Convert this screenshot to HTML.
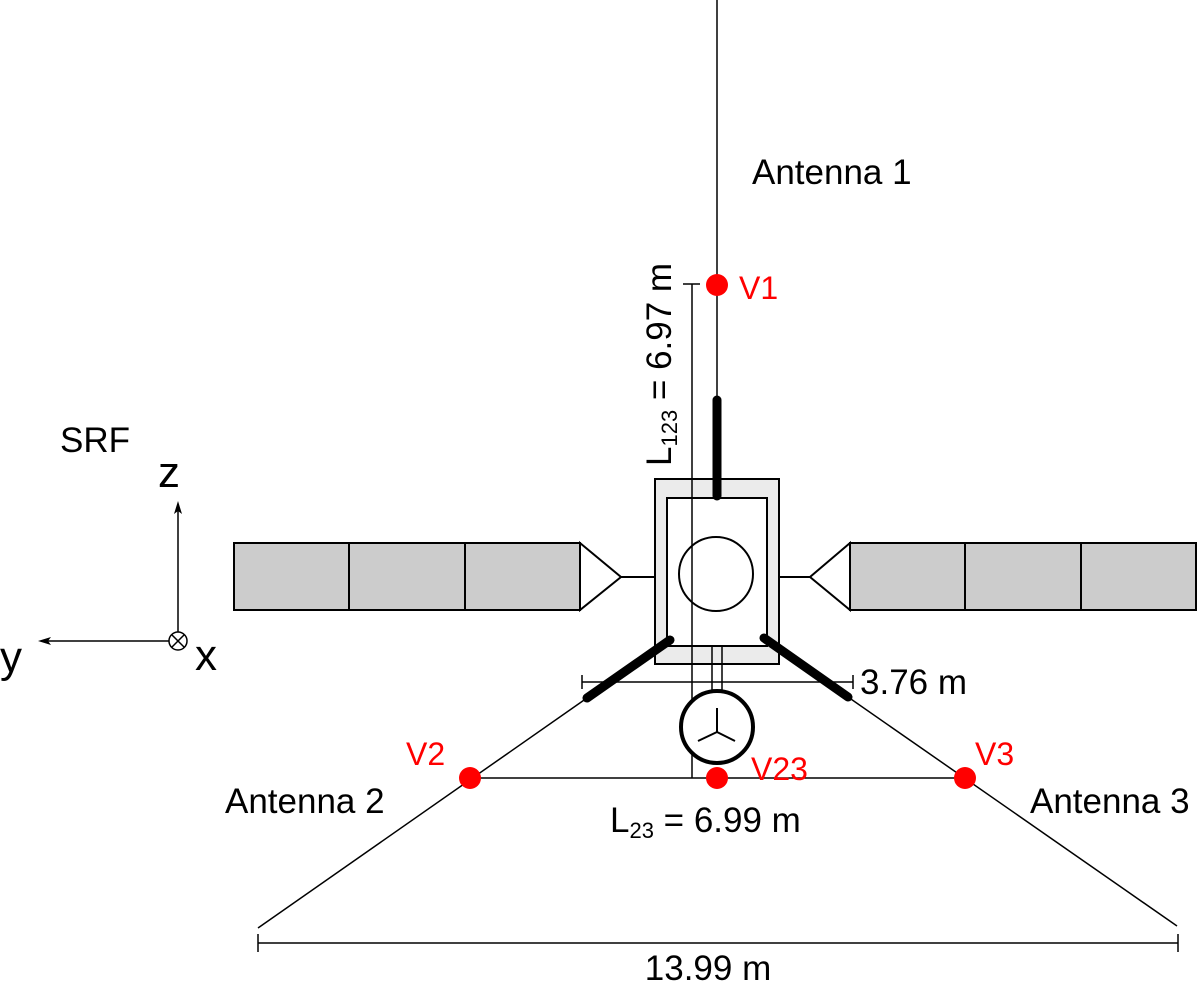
<!DOCTYPE html>
<html><head><meta charset="utf-8"><style>body{margin:0;background:#fff}svg{display:block}</style></head>
<body>
<svg width="1200" height="981" viewBox="0 0 1200 981" xmlns="http://www.w3.org/2000/svg" font-family="Liberation Sans, sans-serif">
<g stroke="#000" stroke-width="2" fill="none">
<rect x="234" y="543" width="346" height="67" fill="#ccc"/>
<line x1="349" y1="543" x2="349" y2="610"/><line x1="465" y1="543" x2="465" y2="610"/>
<polygon points="580,543 621,577 580,610" fill="#fff"/>
<line x1="621" y1="577" x2="667" y2="577"/>
<rect x="850" y="543" width="346" height="67" fill="#ccc"/>
<line x1="965" y1="543" x2="965" y2="610"/><line x1="1081" y1="543" x2="1081" y2="610"/>
<polygon points="850,543 810,577 850,610" fill="#fff"/>
<line x1="767" y1="577" x2="810" y2="577"/>
<rect x="655" y="479" width="124" height="185" fill="#ebebeb"/>
<rect x="667" y="498" width="100" height="148" fill="#fff"/>
<circle cx="716" cy="574" r="37"/>
<line x1="717" y1="0" x2="717" y2="400" stroke-width="1.5"/>
<line x1="717" y1="400" x2="717" y2="496" stroke-width="9" stroke-linecap="round"/>
<line x1="692" y1="284" x2="692" y2="778" stroke-width="1.5"/>
<line x1="683" y1="284" x2="700" y2="284" stroke-width="1.5"/>
<line x1="587" y1="698" x2="258" y2="928" stroke-width="1.5"/>
<line x1="670" y1="640" x2="587" y2="698" stroke-width="9" stroke-linecap="round"/>
<line x1="848" y1="697" x2="1177" y2="926" stroke-width="1.5"/>
<line x1="764" y1="638" x2="848" y2="697" stroke-width="9" stroke-linecap="round"/>
<line x1="582" y1="682" x2="853" y2="682" stroke-width="1.5"/>
<line x1="582" y1="675" x2="582" y2="689" stroke-width="1.5"/><line x1="853" y1="675" x2="853" y2="689" stroke-width="1.5"/>
<line x1="712" y1="646" x2="712" y2="692" stroke-width="1.5"/><line x1="722" y1="646" x2="722" y2="692" stroke-width="1.5"/>
<circle cx="717" cy="727" r="36" stroke-width="4" fill="#fff"/>
<line x1="717" y1="732" x2="717" y2="708"/><line x1="717" y1="732" x2="698" y2="741"/><line x1="717" y1="732" x2="735" y2="741"/>
<line x1="470" y1="778" x2="965" y2="778" stroke-width="1.5"/>
<line x1="470" y1="771" x2="470" y2="785" stroke-width="1.5"/><line x1="965" y1="771" x2="965" y2="785" stroke-width="1.5"/>
<line x1="258" y1="943" x2="1178" y2="943" stroke-width="1.5"/>
<line x1="258" y1="934" x2="258" y2="952" stroke-width="1.5"/><line x1="1178" y1="934" x2="1178" y2="952" stroke-width="1.5"/>
<line x1="178" y1="632" x2="178" y2="508" stroke-width="1.5"/>
<polygon points="178,501 174,514 178,511 182,514" fill="#000" stroke="none"/>
<line x1="169" y1="641" x2="45" y2="641" stroke-width="1.5"/>
<polygon points="38,641 51,637 48,641 51,645" fill="#000" stroke="none"/>
<circle cx="178" cy="641" r="9" stroke-width="1.5"/>
<line x1="172" y1="635" x2="184" y2="647" stroke-width="1.5"/><line x1="184" y1="635" x2="172" y2="647" stroke-width="1.5"/>
</g>
<g fill="#f00">
<circle cx="717" cy="285" r="11"/><circle cx="717" cy="778" r="11"/>
<circle cx="470" cy="778" r="11"/><circle cx="965" cy="778" r="11"/>
<g font-size="32"><text x="739" y="299">V1</text><text x="751" y="780">V23</text><text x="406" y="765">V2</text><text x="975" y="765">V3</text></g>
</g>
<g fill="#000" font-size="35">
<text x="752" y="184">Antenna 1</text>
<text x="225" y="813">Antenna 2</text>
<text x="1030" y="813">Antenna 3</text>
<text x="860" y="694">3.76 m</text>
<text x="708" y="980" text-anchor="middle">13.99 m</text>
<text x="610" y="832">L<tspan font-size="22" dy="6">23</tspan><tspan dy="-6"> = 6.99 m</tspan></text>
<text transform="translate(671,466) rotate(-90)">L<tspan font-size="22" dy="6">123</tspan><tspan dy="-6"> = 6.97 m</tspan></text>
<text x="60" y="452">SRF</text>
<text x="158" y="487" font-size="44">z</text>
<text x="0" y="672" font-size="44">y</text>
<text x="195" y="670" font-size="44">x</text>
</g>
</svg>
</body></html>
